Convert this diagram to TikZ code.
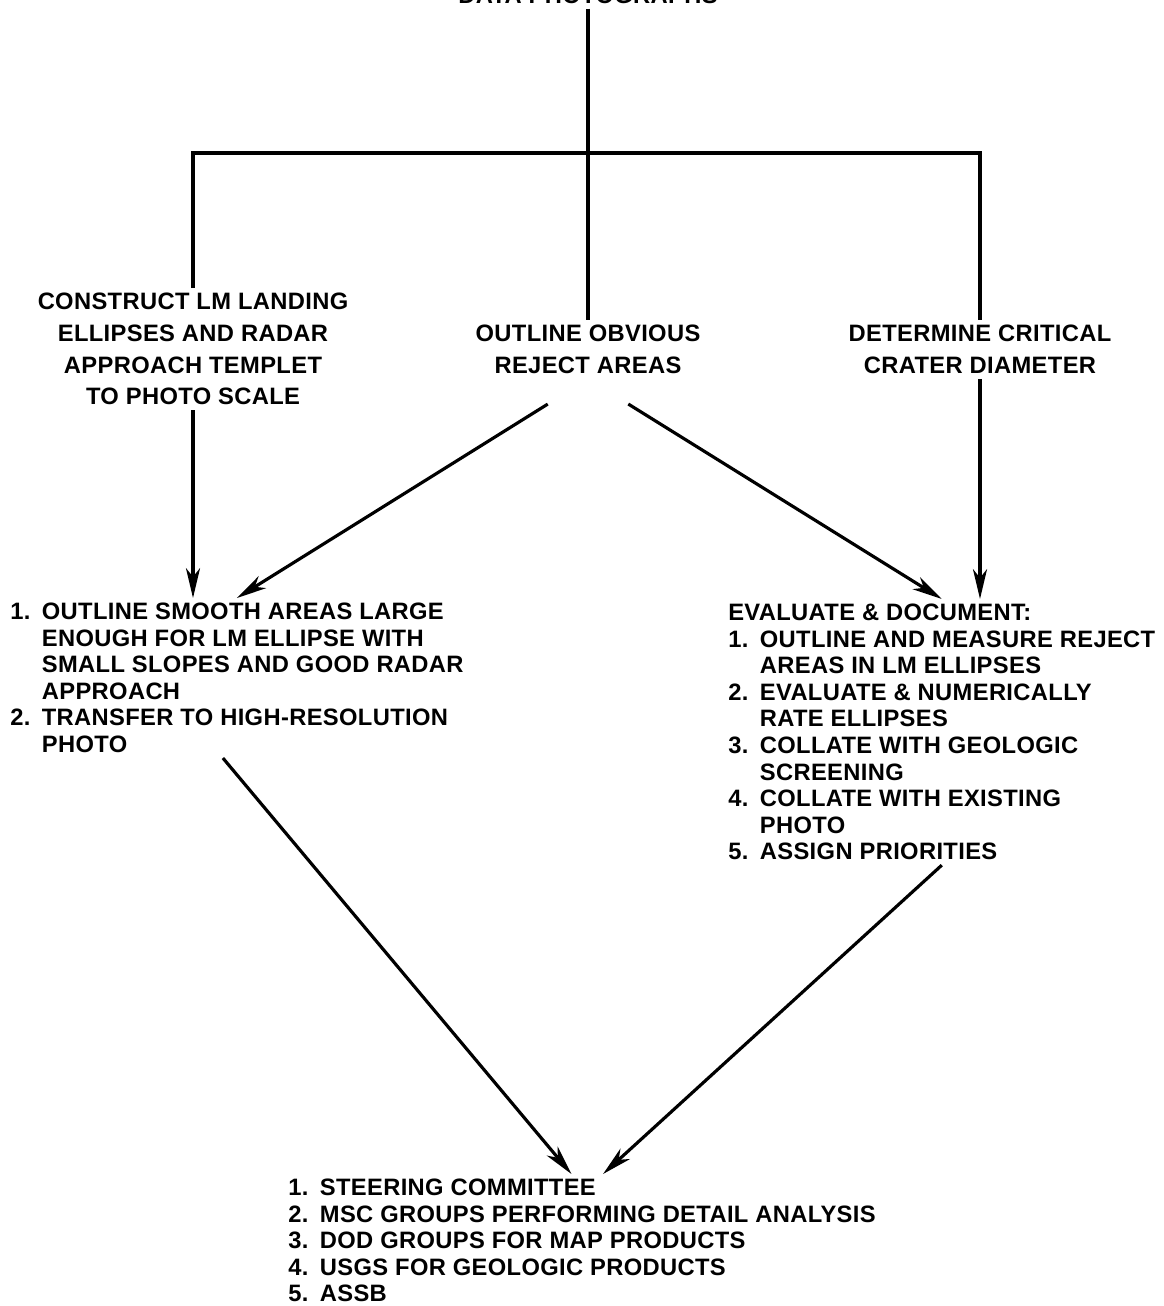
\documentclass[tikz,border=0pt]{standalone}
\usepackage{fontspec}
\setmainfont{Liberation Sans}[LetterSpace=1.5]
\usetikzlibrary{arrows.meta}
\newcommand{\itemno}[1]{\makebox[18pt][l]{#1}}
\newcommand{\indt}{\hspace*{18pt}}

\begin{document}
\begin{tikzpicture}[x=0.2mm,y=-0.2mm,line width=1.8pt,
  txt/.style={inner sep=0pt,outer sep=3pt,font=\fontsize{13.5}{18}\selectfont\bfseries},
  head/.style={txt,align=center,anchor=north},
  steps/.style={txt,align=left,anchor=north west,font=\fontsize{13.5}{15.1}\selectfont\bfseries},
  arr/.style={-{Stealth[length=17pt,width=8pt,inset=5pt]}}]
  \useasboundingbox (0,0) rectangle (1164,1306);

  \node[txt,anchor=base] (data) at (588,3) {DATA PHOTOGRAPHS};
  \coordinate (hub) at (588,153);
  \node[head] (construct) at (193,288) {CONSTRUCT LM LANDING\\ELLIPSES AND RADAR\\APPROACH TEMPLET\\TO PHOTO SCALE};
  \node[head] (obvious) at (588,320) {OUTLINE OBVIOUS\\REJECT AREAS};
  \node[head] (critical) at (980,320) {DETERMINE CRITICAL\\CRATER DIAMETER};

  \node[steps] (smooth) at (5,598) {\itemno{1.}OUTLINE SMOOTH AREAS LARGE\\\indt ENOUGH FOR LM ELLIPSE WITH\\\indt SMALL SLOPES AND GOOD RADAR\\\indt APPROACH\\\itemno{2.}TRANSFER TO HIGH-RESOLUTION\\\indt PHOTO};
  \node[steps] (evaluate) at (723,599) {EVALUATE \& DOCUMENT:\\\itemno{1.}OUTLINE AND MEASURE REJECT\\\indt AREAS IN LM ELLIPSES\\\itemno{2.}EVALUATE \& NUMERICALLY\\\indt RATE ELLIPSES\\\itemno{3.}COLLATE WITH GEOLOGIC\\\indt SCREENING\\\itemno{4.}COLLATE WITH EXISTING\\\indt PHOTO\\\itemno{5.}ASSIGN PRIORITIES};
  \node[steps] (groups) at (283,1174) {\itemno{1.}STEERING COMMITTEE\\\itemno{2.}MSC GROUPS PERFORMING DETAIL ANALYSIS\\\itemno{3.}DOD GROUPS FOR MAP PRODUCTS\\\itemno{4.}USGS FOR GEOLOGIC PRODUCTS\\\itemno{5.}ASSB};

  % tree from the photographs
  \draw (data) -- (obvious);
  \draw (construct.north) |- (hub) -| (critical.north);

  \draw[arr] (construct) -- (construct |- smooth.north);
  \draw[arr,shorten <=27pt] (obvious.south) -- (smooth.north);
  \draw[arr,shorten <=27pt] (obvious.south) -- (evaluate.north);
  \draw[arr] (critical) -- (critical |- evaluate.north);

  \draw[arr] ([xshift=-8pt]smooth.south) -- ([xshift=-6pt]groups.north);
  \draw[arr] (evaluate.south) -- ([xshift=12pt]groups.north);
\end{tikzpicture}
\end{document}
